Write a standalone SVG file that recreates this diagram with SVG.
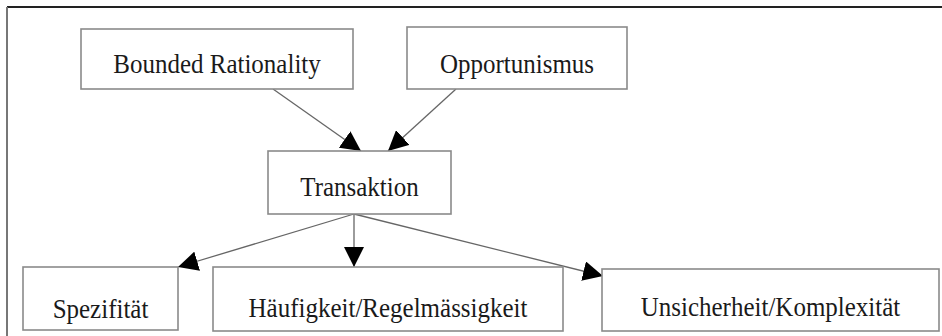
<svg xmlns="http://www.w3.org/2000/svg" width="942" height="336" viewBox="0 0 942 336">
<style>
.box{fill:#fff;stroke:#8a8a8a;stroke-width:1.6}
.lbl{font-family:"Liberation Serif","Times New Roman",serif;font-size:25px;fill:#1a1a1a;text-anchor:middle}
.edge{stroke:#666;stroke-width:1.3;fill:none;marker-end:url(#ah)}
</style>
<defs>
<marker id="ah" markerUnits="userSpaceOnUse" markerWidth="20" markerHeight="20" viewBox="0 0 20 20" refX="20" refY="10" orient="auto">
<path d="M0,0 L20,10 L0,20 z" fill="#000"/>
</marker>
</defs>
<rect x="0" y="0" width="942" height="336" fill="#fff"/>
<g id="frame">
<line x1="7" y1="7" x2="942" y2="7" stroke="#222" stroke-width="2"/>
<line x1="7" y1="7" x2="7" y2="336" stroke="#777" stroke-width="2"/>
</g>
<g id="connectors">
<line class="edge" x1="273" y1="89" x2="361" y2="151"/>
<line class="edge" x1="456" y1="89" x2="388" y2="151"/>
<line class="edge" x1="354" y1="214" x2="178" y2="267"/>
<line class="edge" x1="354" y1="214" x2="354" y2="267"/>
<line class="edge" x1="354" y1="214" x2="603" y2="276"/>
</g>
<g id="bounded">
<rect class="box" x="81" y="29" width="272" height="60"/>
<text class="lbl" transform="translate(217,73) scale(1,1.12)">Bounded Rationality</text>
</g>
<g id="opportunismus">
<rect class="box" x="407" y="27" width="220" height="62"/>
<text class="lbl" transform="translate(517,73) scale(1,1.12)">Opportunismus</text>
</g>
<g id="transaktion">
<rect class="box" x="268" y="151" width="183" height="63"/>
<text class="lbl" transform="translate(359.5,196) scale(1,1.12)">Transaktion</text>
</g>
<g id="spezifitaet">
<rect class="box" x="23" y="267" width="155" height="63"/>
<text class="lbl" transform="translate(100.5,318) scale(1,1.12)">Spezifität</text>
</g>
<g id="haeufigkeit">
<rect class="box" x="213" y="267" width="350" height="64"/>
<text class="lbl" transform="translate(388,317) scale(1,1.12)">Häufigkeit/Regelmässigkeit</text>
</g>
<g id="unsicherheit">
<rect class="box" x="602" y="269" width="337" height="62"/>
<text class="lbl" transform="translate(770.5,316) scale(1,1.12)">Unsicherheit/Komplexität</text>
</g>
</svg>
